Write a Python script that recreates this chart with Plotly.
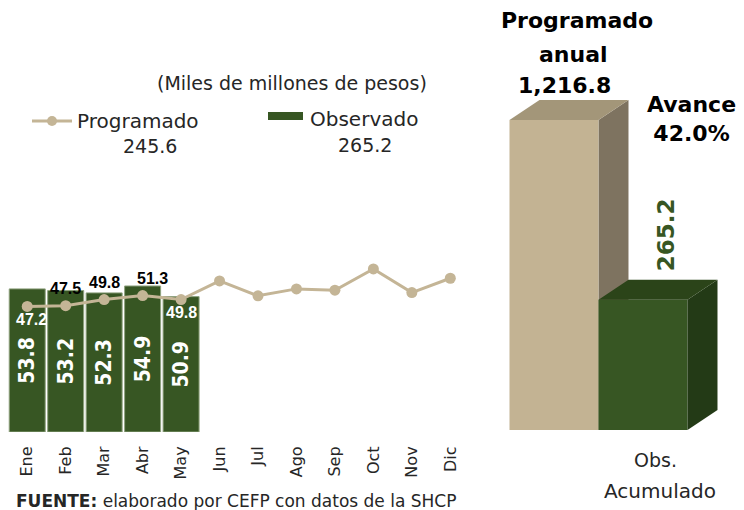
import plotly.graph_objects as go

# datos (miles de millones de pesos)
meses = ["Ene", "Feb", "Mar", "Abr", "May", "Jun", "Jul", "Ago", "Sep", "Oct", "Nov", "Dic"]
programado = [47.2, 47.5, 49.8, 51.3, 49.8, 56.8, 51.2, 53.8, 53.3, 61.3, 52.4, 57.8]
observado = [53.8, 53.2, 52.3, 54.9, 50.9]
prog_acum = 245.6
obs_acum = 265.2
prog_anual = 1216.8
avance = 42.0

# la pagina deja 8px de margen en el body: la figura se corre para compensar
OFF = 8
W, H = 744 - OFF, 510 - OFF
GOTHIC = "DejaVu Sans"
NARROW = "Liberation Sans Narrow, DejaVu Sans Condensed"
VERDE = "#375623"
BEIGE = "#c4b596"
GRIS = "#262626"


def px(X):
    return (X - OFF) / W


def py(Y):
    return 1 - (Y - OFF) / H


fig = go.Figure()

# --- barras mensuales observadas
fig.add_trace(go.Bar(
    x=meses[:len(observado)], y=observado,
    marker=dict(color=VERDE, line=dict(color="#8fa27f", width=1)),
    text=[f"{v:.1f}" for v in observado], textposition="inside",
    insidetextanchor="middle", textangle=-90, constraintext="none",
    textfont=dict(family=NARROW, size=21, color="white", weight="bold"),
    xaxis="x", yaxis="y", zorder=1, showlegend=False))

# --- linea programado
fig.add_trace(go.Scatter(
    x=meses, y=programado, mode="lines+markers",
    line=dict(color=BEIGE, width=3), marker=dict(color=BEIGE, size=11),
    xaxis="x", yaxis="y", zorder=2, showlegend=False))

# --- barras 3D acumulado (en % del programado anual)
alturas = [100, avance]
colores = [("#c3b393", "#a39679", "#7e7360"), (VERDE, "#2b4419", "#233a16")]
dx, dy = 30 / 89, 20 / 3.1

for i, (h, (front, top, side)) in enumerate(zip(alturas, colores)):
    z = 0 if i == 0 else 2
    fig.add_trace(go.Scatter(
        x=[i + 0.5, i + 0.5 + dx, i + 0.5 + dx, i + 0.5, i + 0.5],
        y=[h, h + dy, dy, 0, h], fill="toself", fillcolor=side, mode="lines",
        line=dict(width=0), xaxis="x2", yaxis="y2", zorder=z,
        hoverinfo="skip", showlegend=False))
    fig.add_trace(go.Scatter(
        x=[i - 0.5, i + 0.5, i + 0.5 + dx, i - 0.5 + dx, i - 0.5],
        y=[h, h, h + dy, h + dy, h], fill="toself", fillcolor=top, mode="lines",
        line=dict(width=0), xaxis="x2", yaxis="y2", zorder=2,
        hoverinfo="skip", showlegend=False))

fig.add_trace(go.Bar(
    x=[0, 1], y=alturas, width=1,
    marker=dict(color=[c[0] for c in colores], line=dict(width=0)),
    xaxis="x2", yaxis="y2", zorder=1, showlegend=False))

ann = []


def texto(X, Y, t, size, color=GRIS, bold=False, xanchor="center", **kw):
    ann.append(dict(x=px(X), y=py(Y), xref="paper", yref="paper", text=t,
                    xanchor=xanchor, yanchor="middle", showarrow=False,
                    font=dict(family=GOTHIC, size=size, color=color,
                              weight="bold" if bold else "normal"), **kw))


# etiquetas de la linea programado
for i in range(len(observado)):
    abajo = i in (0, len(observado) - 1)
    ann.append(dict(
        x=meses[i], y=programado[i], xref="x", yref="y", text=f"{programado[i]:.1f}",
        showarrow=False, yshift=-13 if abajo else 17,
        xshift=4 if i == 0 else (10 if i == 3 else 0),
        font=dict(family="Liberation Sans", size=16, weight="bold",
                  color="white" if abajo else "black")))

# etiquetas de las barras 3D
for t, s, xs in [("Programado", 80, 8), ("anual", 46, 5), (f"{prog_anual:,.1f}", 15, -4)]:
    ann.append(dict(
        x=dx / 2, y=alturas[0] + dy, xref="x2", yref="y2", xshift=xs, yshift=s,
        xanchor="center", yanchor="middle", showarrow=False, text=f"<b>{t}</b>",
        font=dict(family=GOTHIC, size=22, color="black")))
ann.append(dict(
    x=1 + dx / 2, y=alturas[1] + dy, xref="x2", yref="y2", xshift=8, yshift=7,
    xanchor="center", yanchor="bottom", showarrow=False, textangle=-90,
    text=f"<b>{obs_acum:.1f}</b>", font=dict(family=GOTHIC, size=23, color=VERDE)))
texto(691, 119, f"Avance<br>{avance:.1f}%", 22, color="black", bold=True)
texto(655, 460, "Obs.", 19)
texto(660, 491, "Acumulado", 20)

# subtitulo y leyenda
texto(292, 83, "(Miles de millones de pesos)", 19)
texto(75, 121, "Programado", 20, xanchor="left")
texto(150, 146, f"{prog_acum:.1f}", 19)
texto(308, 119, "Observado", 20, xanchor="left")
texto(365, 145, f"{obs_acum:.1f}", 19)
texto(14, 501, "<b>FUENTE:</b> elaborado por CEFP con datos de la SHCP", 17, xanchor="left")

shapes = [
    dict(type="line", xref="paper", yref="paper", x0=px(32), x1=px(72),
         y0=py(121), y1=py(121), line=dict(color=BEIGE, width=3)),
    dict(type="circle", xref="paper", yref="paper", x0=px(47), x1=px(57),
         y0=py(126), y1=py(116), fillcolor=BEIGE, line=dict(width=0)),
    dict(type="rect", xref="paper", yref="paper", x0=px(268), x1=px(303),
         y0=py(120), y1=py(112), fillcolor=VERDE, line=dict(width=0)),
]

fig.update_layout(
    width=W, height=H, margin=dict(l=0, r=0, t=0, b=0),
    paper_bgcolor="white", plot_bgcolor="white",
    bargap=0.064, annotations=ann, shapes=shapes,
    xaxis=dict(domain=[px(8), px(508)], range=[-0.5, 12.5], type="category",
               categoryorder="array", categoryarray=meses,
               showline=True, linecolor="#d9d9d9", linewidth=2, ticks="",
               tickangle=-90, ticklabelstandoff=6, showgrid=False, zeroline=False,
               tickfont=dict(family=GOTHIC, size=16, color=GRIS)),
    yaxis=dict(domain=[py(432), 1], range=[0, (432 - OFF) / 2.66], visible=False),
    xaxis2=dict(domain=[px(490), 1], range=[-0.719, 2.135], anchor="y2", visible=False),
    yaxis2=dict(domain=[py(430), 1], range=[0, (430 - OFF) / 3.1], anchor="x2", visible=False),
)

fig.write_html("out.html")
